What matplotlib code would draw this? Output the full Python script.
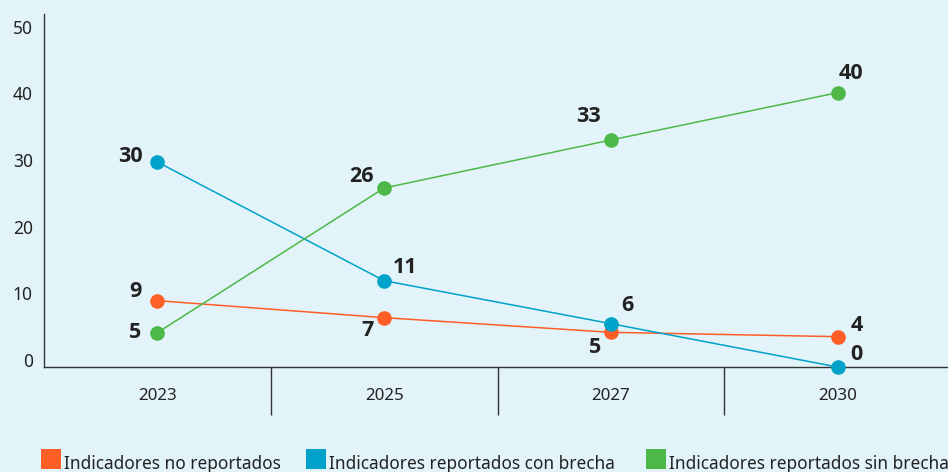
import numpy as np
import matplotlib
matplotlib.use("Agg")
from matplotlib import pyplot as plt
from matplotlib.patches import Rectangle

plt.rcParams["font.family"] = ["Noto Sans", "DejaVu Sans"]

years = ["2023", "2025", "2027", "2030"]
series_names = ["Indicadores no reportados",
                "Indicadores reportados con brecha",
                "Indicadores reportados sin brecha"]
no_reportados = [8.9, 6.35, 4.15, 3.5]
con_brecha = [29.7, 11.9, 5.45, -1.05]
sin_brecha = [4.1, 25.8, 33.0, 40.1]
# numbers printed next to the points
labels_no = ["9", "7", "5", "4"]
labels_con = ["30", "11", "6", "0"]
labels_sin = ["5", "26", "33", "40"]
yticks = [0, 10, 20, 30, 40, 50]

colors = ["#ff5f26", "#00a2c9", "#4db848"]
bg = "#e2f4f9"
txt = "#222222"

# label offsets in pixels (dx, dy)
off_no = [(-22, 9), (-17, -13), (-16, -15), (19, 11)]
off_con = [(-27, 6), (21, 13), (16, 18), (19, 12)]
off_sin = [(-22, 0), (-23, 12), (-22, 24), (13, 19)]
# legend square left edges in pixels
legend_x = [41, 306, 646]

W, H = 948, 472
fig = plt.figure(figsize=(W / 100, H / 100), dpi=100)
fig.patch.set_facecolor(bg)
ax = fig.add_axes([44 / W, 105 / H, 907 / W, 353 / H])
ax.set_facecolor(bg)

x = np.arange(len(years))
all_vals = [no_reportados, con_brecha, sin_brecha]
all_labels = [labels_no, labels_con, labels_sin]
all_offs = [off_no, off_con, off_sin]
for vals, labs, offs, c in zip(all_vals, all_labels, all_offs, colors):
    ax.plot(x, vals, color=c, lw=1.1, marker="o", ms=9.5, clip_on=False, zorder=3)
    for xi, v, lab, (dx, dy) in zip(x, vals, labs, offs):
        ax.annotate(lab, (xi, v), xytext=(dx, dy), textcoords="offset pixels",
                    ha="center", va="center", fontsize=15.5, fontweight="bold",
                    family=["Open Sans", "Noto Sans", "DejaVu Sans"], color=txt)

ax.set_xlim(-0.5, 3.5)
ax.set_ylim(-1.05, 51.9)
ax.set_yticks(yticks)
ax.set_yticklabels([str(t) for t in yticks], fontsize=12.5, color=txt)
ax.tick_params(axis="y", length=0, pad=8)

ax.set_xticks([0.5, 1.5, 2.5])
ax.set_xticklabels([])
ax.tick_params(axis="x", which="major", length=34.5, width=1, color="#333333", direction="out")
ax.set_xticks(x, minor=True)
ax.set_xticklabels(years, minor=True, fontsize=12.2, color=txt)
ax.tick_params(axis="x", which="minor", length=0, pad=15)

for s in ["top", "right"]:
    ax.spines[s].set_visible(False)
for s in ["left", "bottom"]:
    ax.spines[s].set_color("#333333")
    ax.spines[s].set_linewidth(1)

# legend drawn by hand
for lx, name, c in zip(legend_x, series_names, colors):
    fig.patches.append(Rectangle((lx / W, 3 / H), 20 / W, 20 / H, transform=fig.transFigure,
                                 facecolor=c, edgecolor="none"))
    fig.text((lx + 23) / W, 3 / H, name, fontsize=12.4, color=txt, ha="left", va="baseline")

fig.savefig("out.png", dpi=100, facecolor=bg)
